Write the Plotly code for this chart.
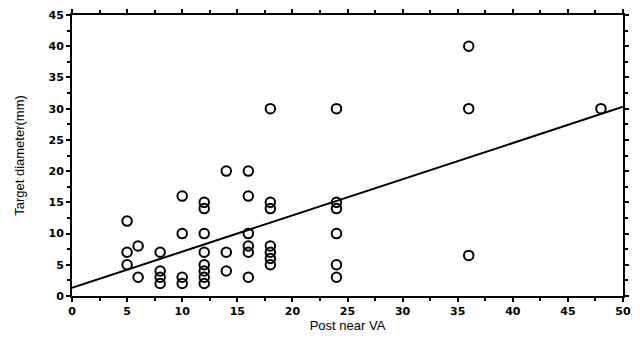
import plotly.graph_objects as go

# Data
post_near_va = [5, 5, 5, 6, 6,
                8, 8, 8, 8,
                10, 10, 10, 10,
                12, 12, 12, 12, 12, 12, 12, 12,
                14, 14, 14,
                16, 16, 16, 16, 16, 16,
                18, 18, 18, 18, 18, 18, 18,
                24, 24, 24, 24, 24, 24,
                36, 36, 36,
                48]
target_diameter = [12, 7, 5, 8, 3,
                   7, 4, 3, 2,
                   16, 10, 3, 2,
                   15, 14, 10, 7, 5, 4, 3, 2,
                   20, 7, 4,
                   20, 16, 10, 8, 7, 3,
                   30, 15, 14, 8, 7, 6, 5,
                   30, 15, 14, 10, 5, 3,
                   40, 30, 6.5,
                   30]
# Regression line drawn in the picture
fit_x = [0, 50]
fit_y = [1.3, 30.3]

x_ticks = [0, 5, 10, 15, 20, 25, 30, 35, 40, 45, 50]
y_ticks = [0, 5, 10, 15, 20, 25, 30, 35, 40, 45]

fig = go.Figure()
fig.add_trace(go.Scatter(x=fit_x, y=fit_y, mode="lines",
                         line=dict(color="black", width=2),
                         showlegend=False, hoverinfo="skip"))
fig.add_trace(go.Scatter(x=post_near_va, y=target_diameter, mode="markers",
                         marker=dict(symbol="circle-open", size=9.5,
                                     color="black", line=dict(width=2)),
                         showlegend=False))

FONT = "Liberation Sans, Arial, sans-serif"
axis_common = dict(
    showgrid=False, zeroline=False, automargin=False,
    showline=True, linecolor="black", linewidth=2,
    mirror="ticks", ticks="outside", ticklen=4, tickwidth=1.5, tickcolor="black",
    tickfont=dict(family="DejaVu Sans, sans-serif", size=11, color="black", weight="bold"),
)

fig.update_xaxes(range=[0, 50], tickvals=x_ticks, ticktext=[str(v) for v in x_ticks],
                 minor=dict(dtick=2.5, tick0=0, ticks="outside", ticklen=3, tickcolor="black"),
                 title=dict(text="Post near VA", standoff=0,
                            font=dict(family=FONT, size=13, color="black")),
                 **axis_common)
fig.update_yaxes(range=[0, 45], tickvals=y_ticks, ticktext=[str(v) for v in y_ticks],
                 minor=dict(dtick=2.5, tick0=0, ticks="outside", ticklen=3, tickcolor="black"),
                 title=dict(text="Target diameter(mm)", standoff=21,
                            font=dict(family=FONT, size=13, color="black")),
                 **axis_common)

# the page has an 8px body margin, so the figure is 8px smaller and margins shifted
fig.update_layout(width=632, height=332,
                  margin=dict(l=64, r=17, t=7, b=44),
                  paper_bgcolor="white", plot_bgcolor="white")

fig.write_html("out.html")
